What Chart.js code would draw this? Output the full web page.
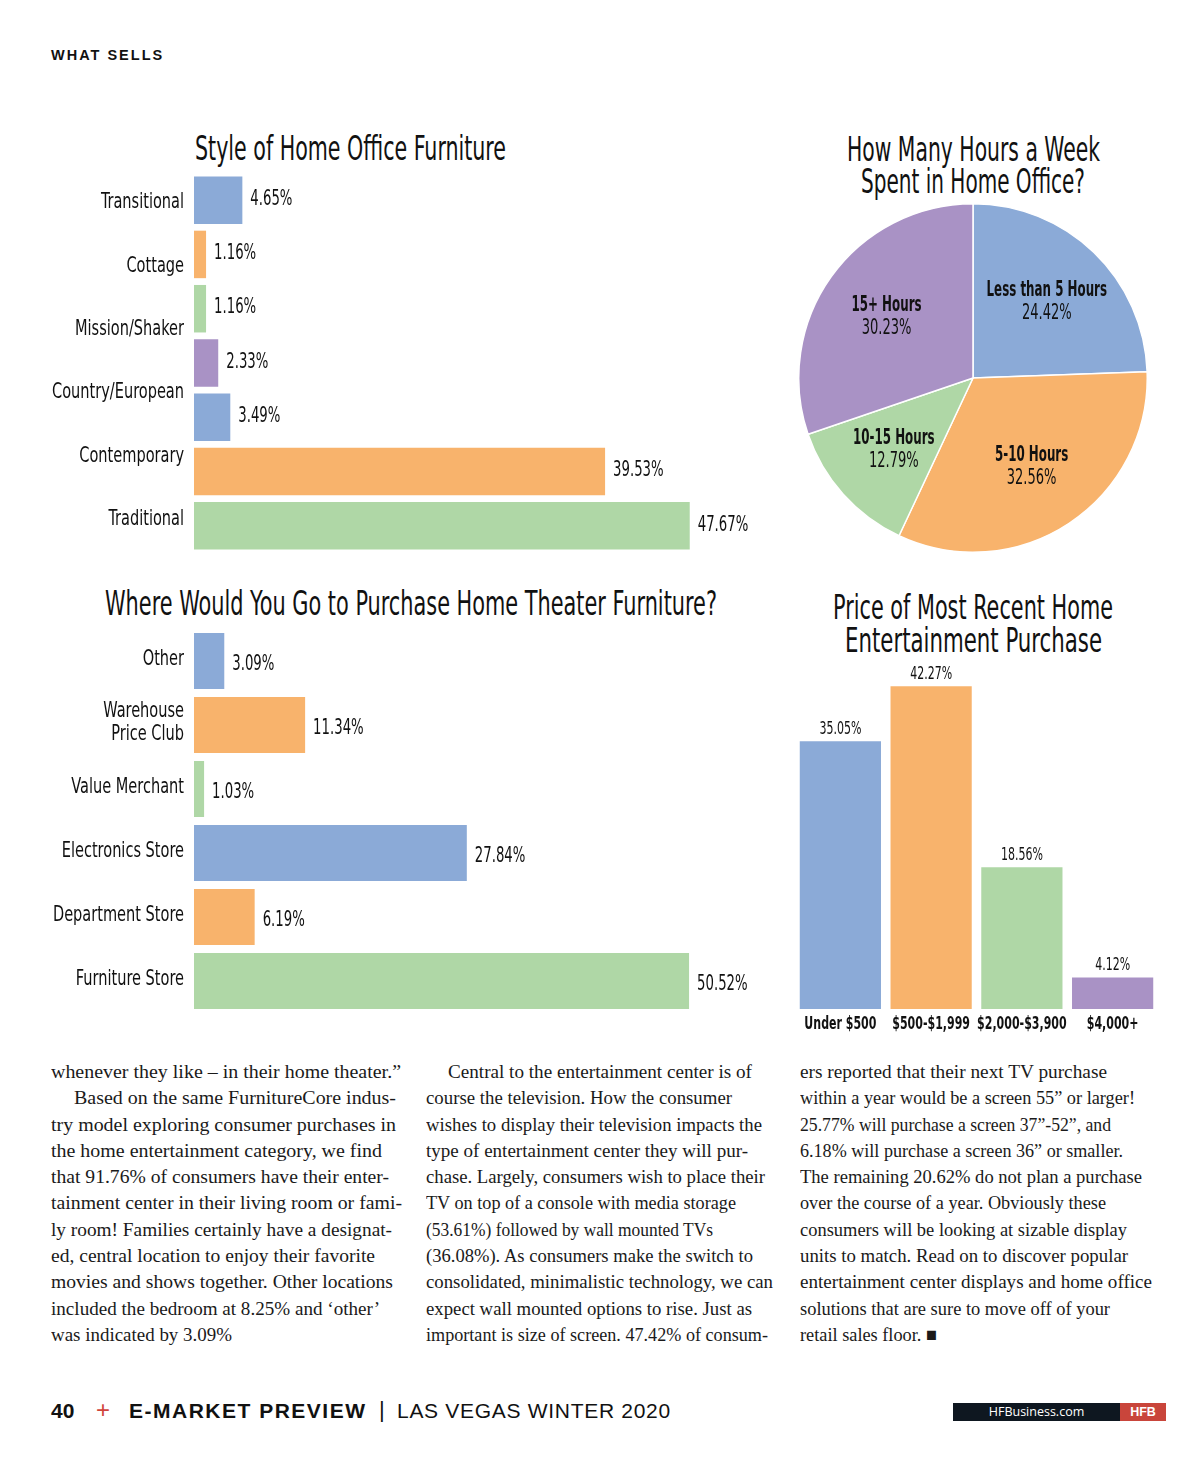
<!DOCTYPE html>
<html>
<head>
<meta charset="utf-8">
<script src="https://cdn.jsdelivr.net/npm/chart.js@4.4.1/dist/chart.umd.min.js"></script>
<style>
  html, body { margin:0; padding:0; background:#fff; }
  #page { position:relative; width:1200px; height:1470px; background:#fff; overflow:hidden; color:#111; }
  .abs { position:absolute; }
  .ttl { position:absolute; font-family:'DejaVu Sans Condensed','Liberation Sans',sans-serif; font-size:34px; line-height:34px; white-space:nowrap; transform-origin:0 50%; color:#111; }
  .col { position:absolute; top:1059px; font-family:'Liberation Serif','DejaVu Serif',serif; font-size:19px; line-height:26.3px; color:#1a1a1a; }
  .col div { white-space:nowrap; height:26.3px; }
  .col span { display:inline-block; transform-origin:0 50%; }
  canvas { position:absolute; }
</style>
</head>
<body>
<div id="page">
  <div class="abs" style="left:51px;top:47px;font-family:'Liberation Sans',Arial,sans-serif;font-weight:bold;font-size:14.5px;letter-spacing:2px;">WHAT SELLS</div>

  <div class="ttl" data-w="311" style="left:195px;top:131px;">Style of Home Office Furniture</div>
  <div class="ttl" data-w="612" style="left:105px;top:586px;">Where Would You Go to Purchase Home Theater Furniture?</div>
  <div class="ttl" data-w="253" style="left:847px;top:132px;">How Many Hours a Week</div>
  <div class="ttl" data-w="224" style="left:861px;top:164px;">Spent in Home Office?</div>
  <div class="ttl" data-w="280" style="left:833px;top:590px;">Price of Most Recent Home</div>
  <div class="ttl" data-w="257" style="left:845px;top:623px;">Entertainment Purchase</div>

  <canvas id="c1" width="730" height="380" style="left:50px;top:173px;"></canvas>
  <canvas id="c2" width="730" height="384" style="left:50px;top:629px;"></canvas>
  <canvas id="c3" width="350" height="350" style="left:798px;top:203px;"></canvas>
  <canvas id="c4" width="363" height="390" style="left:795px;top:650px;"></canvas>

  <div class="col" style="left:51px;">
    <div><span data-w="350">whenever they like – in their home theater.”</span></div>
    <div style="padding-left:23px"><span data-w="322">Based on the same FurnitureCore indus-</span></div>
    <div><span data-w="345">try model exploring consumer purchases in</span></div>
    <div><span data-w="331">the home entertainment category, we find</span></div>
    <div><span data-w="338">that 91.76% of consumers have their enter-</span></div>
    <div><span data-w="351">tainment center in their living room or fami-</span></div>
    <div><span data-w="341">ly room! Families certainly have a designat-</span></div>
    <div><span data-w="324">ed, central location to enjoy their favorite</span></div>
    <div><span data-w="342">movies and shows together. Other locations</span></div>
    <div><span data-w="329">included the bedroom at 8.25% and ‘other’</span></div>
    <div><span data-w="181">was indicated by 3.09%</span></div>
  </div>
  <div class="col" style="left:426px;">
    <div style="padding-left:22px"><span data-w="304">Central to the entertainment center is of</span></div>
    <div><span data-w="306">course the television. How the consumer</span></div>
    <div><span data-w="336">wishes to display their television impacts the</span></div>
    <div><span data-w="322">type of entertainment center they will pur-</span></div>
    <div><span data-w="339">chase. Largely, consumers wish to place their</span></div>
    <div><span data-w="310">TV on top of a console with media storage</span></div>
    <div><span data-w="287">(53.61%) followed by wall mounted TVs</span></div>
    <div><span data-w="327">(36.08%). As consumers make the switch to</span></div>
    <div><span data-w="347">consolidated, minimalistic technology, we can</span></div>
    <div><span data-w="326">expect wall mounted options to rise. Just as</span></div>
    <div><span data-w="342">important is size of screen. 47.42% of consum-</span></div>
  </div>
  <div class="col" style="left:800px;">
    <div><span data-w="307">ers reported that their next TV purchase</span></div>
    <div><span data-w="335">within a year would be a screen 55” or larger!</span></div>
    <div><span data-w="311">25.77% will purchase a screen 37”-52”, and</span></div>
    <div><span data-w="323">6.18% will purchase a screen 36” or smaller.</span></div>
    <div><span data-w="342">The remaining 20.62% do not plan a purchase</span></div>
    <div><span data-w="306">over the course of a year. Obviously these</span></div>
    <div><span data-w="327">consumers will be looking at sizable display</span></div>
    <div><span data-w="328">units to match. Read on to discover popular</span></div>
    <div><span data-w="352">entertainment center displays and home office</span></div>
    <div><span data-w="310">solutions that are sure to move off of your</span></div>
    <div><span data-w="137">retail sales floor. ■</span></div>
  </div>

  <div class="abs" style="left:51px;top:1399px;font-family:'Liberation Sans',Arial,sans-serif;font-weight:900;font-size:21px;line-height:24px;">40</div>
  <div class="abs" style="left:96px;top:1397px;font-family:'Liberation Sans',Arial,sans-serif;font-weight:normal;font-size:24px;line-height:26px;color:#d0453b;">+</div>
  <div class="abs" style="left:129px;top:1399px;font-family:'Liberation Sans',Arial,sans-serif;font-weight:900;font-size:21px;line-height:24px;letter-spacing:1.5px;">E-MARKET PREVIEW</div>
  <div class="abs" style="left:379px;top:1398px;font-family:'Liberation Sans',Arial,sans-serif;font-size:22px;line-height:24px;">|</div>
  <div class="abs" style="left:397px;top:1399px;font-family:'Liberation Sans',Arial,sans-serif;font-size:21px;line-height:24px;letter-spacing:0.7px;">LAS VEGAS WINTER 2020</div>
  <div class="abs" style="left:953px;top:1403px;width:167px;height:18px;background:#0e1720;color:#fff;font-family:'Open Sans','Liberation Sans',sans-serif;font-size:12.5px;line-height:18px;text-align:center;">HFBusiness.com</div>
  <div class="abs" style="left:1120px;top:1403px;width:46px;height:18px;background:#c9453b;color:#fff;font-family:'Liberation Sans',sans-serif;font-weight:bold;font-size:12.5px;line-height:18px;text-align:center;">HFB</div>
</div>

<script>
// ---------- DATA ----------
const styleBarCategories = ['Transitional', 'Cottage', 'Mission/Shaker', 'Country/European', 'Other style', 'Contemporary', 'Traditional'];
const styleTickLabels = ['Transitional', 'Cottage', 'Mission/Shaker', 'Country/European', 'Contemporary', 'Traditional'];
const styleValues = [4.65, 1.16, 1.16, 2.33, 3.49, 39.53, 47.67];

const storeLabels = ['Other', ['Warehouse', 'Price Club'], 'Value Merchant', 'Electronics Store', 'Department Store', 'Furniture Store'];
const storeValues = [3.09, 11.34, 1.03, 27.84, 6.19, 50.52];

const hoursLabels = ['Less than 5 Hours', '5-10 Hours', '10-15 Hours', '15+ Hours'];
const hoursValues = [24.42, 32.56, 12.79, 30.23];

const priceLabels = ['Under $500', '$500-$1,999', '$2,000-$3,900', '$4,000+'];
const priceValues = [35.05, 42.27, 18.56, 4.12];

// ---------- STYLE ----------
const BLUE = '#8baad7', ORANGE = '#f8b36c', GREEN = '#afd7a6', PURPLE = '#a992c5';
const styleColors = [BLUE, ORANGE, GREEN, PURPLE, BLUE, ORANGE, GREEN];
const storeColors = [BLUE, ORANGE, GREEN, BLUE, ORANGE, GREEN];
const hoursColors = [BLUE, ORANGE, GREEN, PURPLE];
const priceColors = [BLUE, ORANGE, GREEN, PURPLE];
const NARROW = "'DejaVu Sans Condensed','Liberation Sans',sans-serif";
const INK = '#111';
const fmt = v => v.toFixed(2) + '%';

Chart.defaults.font.family = NARROW;
Chart.defaults.color = INK;
Chart.defaults.animation = false;
Chart.defaults.plugins.legend.display = false;
Chart.defaults.plugins.tooltip.enabled = false;

// fit titles & text lines
document.querySelectorAll('.ttl, .col span').forEach(el => {
  const w = el.getBoundingClientRect().width;
  const t = +el.dataset.w;
  el.style.transform = 'scaleX(' + (t / w) + ')';
});

function squeezeText(ctx, text, x, y, sx, align) {
  ctx.save();
  ctx.translate(x, y);
  ctx.scale(sx, 1);
  ctx.textAlign = align;
  ctx.textBaseline = 'middle';
  ctx.fillText(text, 0, 0);
  ctx.restore();
}

function zeroPad(s) { s.paddingTop = 0; s.paddingBottom = 0; s.paddingLeft = 0; s.paddingRight = 0; }

function hBarText(scaleId, labelsDy, valueDy) {
  return {
    id: 'hbartext',
    afterDatasetsDraw(chart) {
      const ctx = chart.ctx;
      const meta = chart.getDatasetMeta(0);
      const data = chart.data.datasets[0].data;
      ctx.save();
      ctx.fillStyle = INK;
      ctx.font = '22px ' + NARROW;
      meta.data.forEach((bar, i) => {
        squeezeText(ctx, fmt(data[i]), bar.x + 8, bar.y + valueDy, 0.67, 'left');
      });
      const sc = chart.scales[scaleId];
      const labs = sc.getLabels();
      ctx.font = '22px ' + NARROW;
      labs.forEach((lab, i) => {
        const y = sc.getPixelForValue(i) + labelsDy;
        const lines = Array.isArray(lab) ? lab : [lab];
        lines.forEach((ln, k) => {
          const ly = y + (k - (lines.length - 1) / 2) * 23;
          squeezeText(ctx, ln, sc.right - 10, ly, 0.735, 'right');
        });
      });
      ctx.restore();
    }
  };
}

// Chart 1: Style of Home Office Furniture
new Chart(document.getElementById('c1'), {
  type: 'bar',
  data: { labels: styleBarCategories, datasets: [{ data: styleValues, backgroundColor: styleColors, barPercentage: 0.875, categoryPercentage: 1 }] },
  options: {
    responsive: false, indexAxis: 'y',
    layout: { padding: 0 },
    scales: {
      x: { display: false, min: 0, max: 56.35 },
      y: { display: false },
      yl: { type: 'category', labels: styleTickLabels, position: 'left', offset: true,
            grid: { display: false }, border: { display: false },
            ticks: { display: false },
            afterFit(s) { s.width = 144; zeroPad(s); } }
    }
  },
  plugins: [hBarText('yl', -2, -1)]
});

// Chart 2: Where would you go
new Chart(document.getElementById('c2'), {
  type: 'bar',
  data: { labels: storeLabels, datasets: [{ data: storeValues, backgroundColor: storeColors, barPercentage: 0.875, categoryPercentage: 1 }] },
  options: {
    responsive: false, indexAxis: 'y',
    layout: { padding: 0 },
    scales: {
      x: { display: false, min: 0, max: 59.8 },
      y: { grid: { display: false }, border: { display: false },
           ticks: { display: false },
           afterFit(s) { s.width = 144; zeroPad(s); } }
    }
  },
  plugins: [hBarText('y', -2, 3)]
});

// Chart 3: Pie
new Chart(document.getElementById('c3'), {
  type: 'pie',
  data: { labels: hoursLabels, datasets: [{ data: hoursValues, backgroundColor: hoursColors, borderColor: '#fff', borderWidth: 1.5 }] },
  options: { responsive: false, layout: { padding: 0 } },
  plugins: [{
    id: 'pielabels',
    afterDatasetsDraw(chart) {
      const ctx = chart.ctx;
      const meta = chart.getDatasetMeta(0);
      ctx.save();
      ctx.fillStyle = INK;
      meta.data.forEach((arc, i) => {
        const p = arc.getProps(['x', 'y', 'startAngle', 'endAngle', 'outerRadius']);
        const mid = (p.startAngle + p.endAngle) / 2;
        const r = p.outerRadius * 0.61;
        const x = p.x + Math.cos(mid) * r, y = p.y + Math.sin(mid) * r;
        ctx.font = 'bold 22px ' + NARROW;
        squeezeText(ctx, chart.data.labels[i], x, y - 11, 0.6, 'center');
        ctx.font = '22px ' + NARROW;
        squeezeText(ctx, fmt(hoursValues[i]), x, y + 12, 0.66, 'center');
      });
      ctx.restore();
    }
  }]
});

// Chart 4: Price
new Chart(document.getElementById('c4'), {
  type: 'bar',
  data: { labels: priceLabels, datasets: [{ data: priceValues, backgroundColor: priceColors, barPercentage: 0.895, categoryPercentage: 1 }] },
  options: {
    responsive: false,
    layout: { padding: 0 },
    scales: {
      y: { display: false, min: 0, max: 47 },
      x: { grid: { display: false }, border: { display: false },
           ticks: { display: false },
           afterFit(s) { s.height = 31; zeroPad(s); } }
    }
  },
  plugins: [{
    id: 'vlabels',
    afterDatasetsDraw(chart) {
      const ctx = chart.ctx;
      const meta = chart.getDatasetMeta(0);
      ctx.save();
      ctx.fillStyle = INK;
      ctx.font = '18px ' + NARROW;
      meta.data.forEach((bar, i) => {
        squeezeText(ctx, fmt(priceValues[i]), bar.x, bar.y - 12, 0.68, 'center');
      });
      const sc = chart.scales.x;
      ctx.font = 'bold 18px ' + NARROW;
      sc.getLabels().forEach((lab, i) => {
        squeezeText(ctx, lab, sc.getPixelForValue(i), sc.top + 15, 0.68, 'center');
      });
      ctx.restore();
    }
  }]
});
</script>
</body>
</html>
